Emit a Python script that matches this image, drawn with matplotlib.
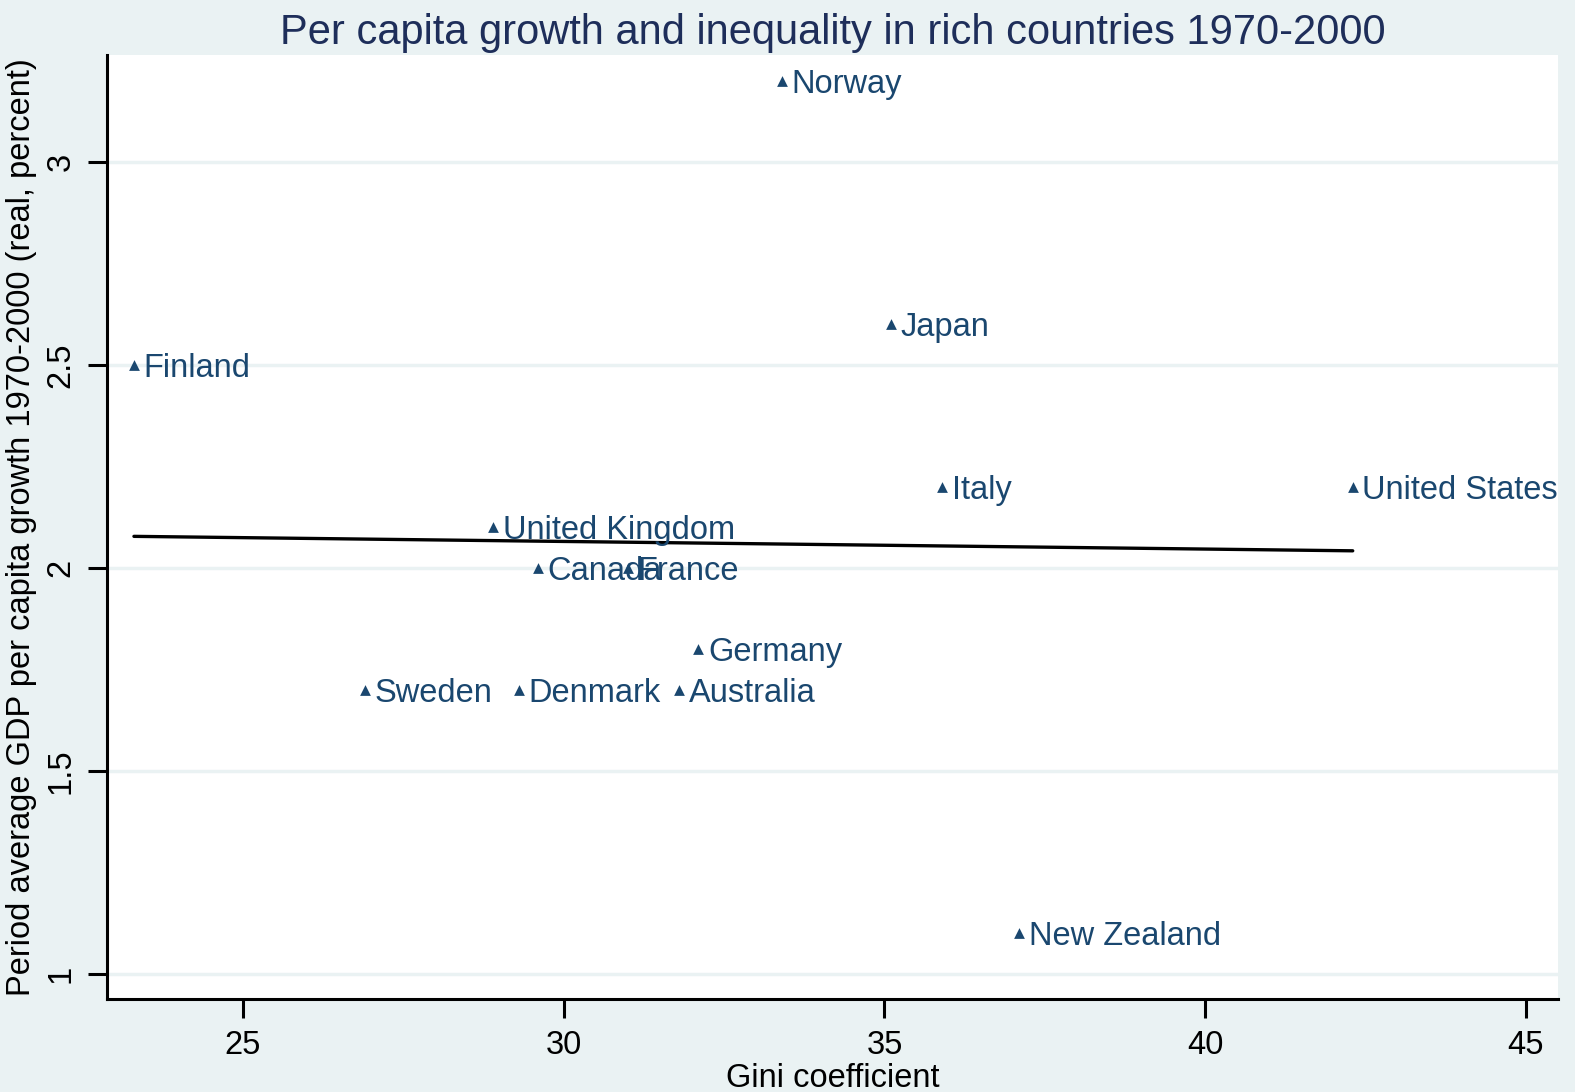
import matplotlib.pyplot as plt
import numpy as np

# Data
countries = ["Finland", "Norway", "Japan", "Italy", "United States", "United Kingdom",
             "Canada", "France", "Germany", "Sweden", "Denmark", "Australia", "New Zealand"]
gini = [23.3, 33.4, 35.1, 35.9, 42.3, 28.9, 29.6, 31.0, 32.1, 26.9, 29.3, 31.8, 37.1]
growth = [2.5, 3.2, 2.6, 2.2, 2.2, 2.1, 2.0, 2.0, 1.8, 1.7, 1.7, 1.7, 1.1]
x_ticks = [25, 30, 35, 40, 45]
y_ticks = [1, 1.5, 2, 2.5, 3]

bg = "#EAF2F3"
navy = "#1A476F"

plt.rcParams["font.family"] = ["Liberation Sans", "DejaVu Sans"]

fig = plt.figure(figsize=(15.75, 10.92), dpi=100, facecolor=bg)
ax = fig.add_axes([107 / 1575, 1 - 999 / 1092, (1558 - 107) / 1575, (999 - 55) / 1092])
ax.set_facecolor("white")

ax.scatter(gini, growth, marker="^", s=60, color=navy, zorder=3, linewidths=0)
for name, x, y in zip(countries, gini, growth):
    ax.annotate(name, (x, y), xytext=(7, -2.5), textcoords="offset points",
                fontsize=23.5, color=navy, va="center", ha="left")

# linear fit line
slope, intercept = np.polyfit(gini, growth, 1)
xs = np.array([min(gini), max(gini)])
ax.plot(xs, slope * xs + intercept, color="black", lw=2.4, zorder=2, solid_capstyle="round")

ax.set_xlim(22.88, 45.5)
ax.set_ylim(0.938, 3.264)
ax.set_xticks(x_ticks)
ax.set_yticks(y_ticks)
ax.set_yticklabels([f"{t:g}" for t in y_ticks], rotation=90, va="center")
ax.grid(axis="y", color=bg, lw=2.5, zorder=0)
ax.set_axisbelow(True)

for side in ["top", "right"]:
    ax.spines[side].set_visible(False)
for side in ["left", "bottom"]:
    ax.spines[side].set_linewidth(2.2)
ax.tick_params(axis="both", length=14, width=2.2, labelsize=23.5, pad=8)

ax.set_xlabel("Gini coefficient", fontsize=23.5, labelpad=2)
ax.set_ylabel("Period average GDP per capita growth 1970-2000 (real, percent)",
              fontsize=23.5, labelpad=6)
ax.set_title("Per capita growth and inequality in rich countries 1970-2000",
             fontsize=30, color="#1E2E5A", pad=8)

fig.savefig("out.png", dpi=100, facecolor=bg)
